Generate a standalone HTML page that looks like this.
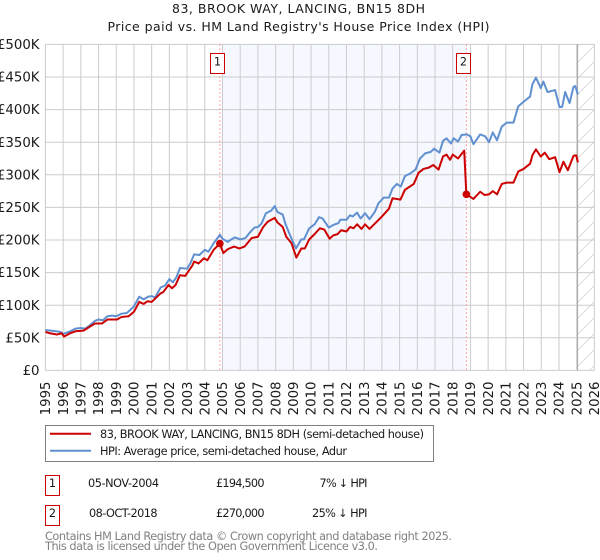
<!DOCTYPE html>
<html>
<head>
<meta charset="utf-8">
<title>83, BROOK WAY, LANCING, BN15 8DH</title>
<style>
html,body{margin:0;padding:0;background:#fff;width:600px;height:560px;overflow:hidden}
svg{display:block}
text{font-family:"DejaVu Sans","Liberation Sans",sans-serif;fill:#1a1a1a}
</style>
</head>
<body>
<svg id="chart" xmlns="http://www.w3.org/2000/svg" width="600" height="560" viewBox="0 0 600 560">
  <defs>
    <pattern id="hatch" patternUnits="userSpaceOnUse" width="16" height="16">
      <path d="M-2 18L18 -2M-2 2L2 -2M14 18L18 14" stroke="#d4d4d4" stroke-width="0.8" fill="none"/>
    </pattern>
  </defs>
  <text x="298.5" y="13" font-size="12.5" text-anchor="middle" textLength="253">83, BROOK WAY, LANCING, BN15 8DH</text>
  <text x="298.5" y="31" font-size="12.5" text-anchor="middle" textLength="382">Price paid vs. HM Land Registry's House Price Index (HPI)</text>
  <g id="plot"></g>

  <g>
    <rect x="45.5" y="425.5" width="388" height="36" fill="#fff" stroke="#808080" stroke-width="1"/>
    <line x1="50" x2="91" y1="433.7" y2="433.7" stroke="#cc0000" stroke-width="2"/>
    <text x="100" y="438" font-size="11.3" textLength="324">83, BROOK WAY, LANCING, BN15 8DH (semi-detached house)</text>
    <line x1="50" x2="91" y1="450.7" y2="450.7" stroke="#6090d0" stroke-width="2"/>
    <text x="100" y="455" font-size="11.3" textLength="247">HPI: Average price, semi-detached house, Adur</text>
  </g>

  <g>
    <rect x="45.5" y="475.5" width="14" height="20" fill="#fff" stroke="#cc0000" stroke-width="1"/>
    <text x="52.5" y="487" font-size="11.3" text-anchor="middle">1</text>
    <text x="88" y="487" font-size="11.3" textLength="71">05-NOV-2004</text>
    <text x="216" y="487" font-size="11.3" textLength="48.5">£194,500</text>
    <text x="319.5" y="487" font-size="11.3" textLength="48">7% ↓ HPI</text>
  </g>
  <g>
    <rect x="45.5" y="505.5" width="14" height="20" fill="#fff" stroke="#cc0000" stroke-width="1"/>
    <text x="52.5" y="517" font-size="11.3" text-anchor="middle">2</text>
    <text x="89" y="517" font-size="11.3" textLength="68.5">08-OCT-2018</text>
    <text x="216" y="517" font-size="11.3" textLength="48.5">£270,000</text>
    <text x="312" y="517" font-size="11.3" textLength="55.5">25% ↓ HPI</text>
  </g>

  <text x="45" y="540" font-size="11.3" style="fill:#808080" textLength="407">Contains HM Land Registry data © Crown copyright and database right 2025.</text>
  <text x="45" y="550" font-size="11.3" style="fill:#808080" textLength="333">This data is licensed under the Open Government Licence v3.0.</text>
</svg>
<script>
var xTickYears = [1995,1996,1997,1998,1999,2000,2001,2002,2003,2004,2005,2006,2007,2008,2009,2010,2011,2012,2013,2014,2015,2016,2017,2018,2019,2020,2021,2022,2023,2024,2025,2026];
var yTickValues = [0,50,100,150,200,250,300,350,400,450,500];
var yTickLabels = ['£0','£50K','£100K','£150K','£200K','£250K','£300K','£350K','£400K','£450K','£500K'];

var hpiYears = [1995,1995.3,1995.6,1995.85,1996,1996.4,1996.7,1997,1997.25,1997.5,1997.8,1998,1998.25,1998.5,1998.75,1999,1999.3,1999.6,2000,2000.3,2000.55,2000.8,2001,2001.2,2001.5,2001.75,2002,2002.2,2002.4,2002.6,2003,2003.2,2003.4,2003.7,2004,2004.2,2004.5,2004.85,2005,2005.3,2005.5,2005.7,2006,2006.3,2006.5,2006.8,2007,2007.2,2007.45,2007.75,2007.95,2008.1,2008.4,2008.55,2008.85,2009.15,2009.45,2009.6,2009.9,2010.2,2010.45,2010.65,2011,2011.25,2011.55,2011.65,2012,2012.2,2012.35,2012.6,2012.8,2013.05,2013.3,2013.6,2013.8,2014.1,2014.4,2014.6,2014.85,2015.07,2015.3,2015.6,2015.9,2016.15,2016.45,2016.75,2016.95,2017.25,2017.45,2017.65,2017.9,2018.05,2018.3,2018.5,2018.8,2019,2019.17,2019.55,2019.83,2020.05,2020.26,2020.5,2020.77,2021.05,2021.43,2021.7,2022,2022.37,2022.5,2022.7,2022.97,2023.12,2023.35,2023.78,2024.03,2024.18,2024.35,2024.6,2024.82,2024.92,2025.07];
var hpiValues = [62,61,60,59,56,60,64,65,64,69,76,78,77,83,84,83,87,88,98,113,109,113,114,112,127,130,140,135,143,157,156,165,178,177,185,182,195,208,202,197,201,204,201,203,210,219,220,225,241,245,252,243,239,225,205,187,201,201,218,224,235,233,219,223,226,231,231,238,236,242,233,241,232,243,256,265,265,279,286,282,298,302,308,325,333,335,340,334,352,356,348,356,351,361,362,359,347,362,359,350,365,353,374,380,380,405,412,420,439,449,433,443,427,430,404,404,427,410,435,436,423];

var priceYears = [1995,1995.26,1995.64,1995.92,1996.05,1996.4,1996.7,1997.15,1997.5,1997.8,1998.2,1998.5,1999.05,1999.3,1999.7,2000,2000.3,2000.55,2000.75,2001,2001.5,2001.65,2001.95,2002.15,2002.35,2002.6,2002.9,2003.3,2003.4,2003.65,2003.95,2004.15,2004.5,2004.85,2005.05,2005.3,2005.65,2005.95,2006.25,2006.65,2007,2007.3,2007.55,2007.95,2008.1,2008.4,2008.6,2008.9,2009.17,2009.45,2009.65,2009.9,2010.2,2010.5,2010.75,2011.05,2011.25,2011.5,2011.7,2012,2012.2,2012.4,2012.6,2012.85,2013.05,2013.3,2014,2014.4,2014.6,2015.05,2015.3,2015.8,2016.07,2016.35,2016.65,2016.9,2017.2,2017.45,2017.65,2017.85,2018,2018.3,2018.65,2018.77,2019,2019.17,2019.55,2019.8,2020.05,2020.26,2020.5,2020.77,2021.05,2021.43,2021.7,2022,2022.37,2022.5,2022.7,2022.97,2023.2,2023.45,2023.78,2024.03,2024.25,2024.5,2024.82,2024.97,2025.07];
var priceValues = [59,57,55,57,52,57,60,61,67,72,72,78,78,82,83,90,105,102,106,105,118,120,131,126,131,146,145,161,167,164,172,169,185,194.5,180,186,190,187,190,203,205,220,228,234,227,220,205,195,173,187,187,201,209,218,216,202,207,209,215,213,220,218,224,217,224,217,236,248,264,262,277,286,303,309,311,315,308,328,331,323,331,325,337,270,266,263,274,269,270,275,270,286,288,288,305,309,317,330,339,328,334,324,327,304,320,307,329,330,319];

var saleYears = [2004.85, 2018.77];
var saleValues = [194.5, 270];
var saleLabels = ['1', '2'];
var shadeStartYear = 2005;
var forecastStartYear = 2025.05;

var SVG_NS = 'http://www.w3.org/2000/svg';
var plot = document.getElementById('plot');
var LEFT = 45.4, RIGHT = 594.4, TOP = 44.4, BOTTOM = 370.4;
var X_MIN = 1995, X_MAX = 2026, Y_MIN = 0, Y_MAX = 500;

function xScale(year) { return LEFT + (year - X_MIN) / (X_MAX - X_MIN) * (RIGHT - LEFT); }
function yScale(value) { return BOTTOM - (value - Y_MIN) / (Y_MAX - Y_MIN) * (BOTTOM - TOP); }
function make(tag, attrs, parent) {
  var el = document.createElementNS(SVG_NS, tag);
  for (var k in attrs) { el.setAttribute(k, attrs[k]); }
  (parent || plot).appendChild(el);
  return el;
}
function linePath(xs, ys) {
  return xs.map(function (x, i) { return (i ? 'L' : 'M') + xScale(x).toFixed(2) + ' ' + yScale(ys[i]).toFixed(2); }).join('');
}

var shade = make('rect', {x: xScale(shadeStartYear), y: TOP, width: xScale(saleYears[1]) - xScale(shadeStartYear), height: BOTTOM - TOP, fill: '#f5f8ff'});



var hatch = make('rect', {x: xScale(forecastStartYear), y: TOP, width: RIGHT - xScale(forecastStartYear), height: BOTTOM - TOP, fill: 'url(#hatch)'});



yTickValues.forEach(function (v, i) {
  var g = make('line', {x1: LEFT, x2: RIGHT, y1: yScale(v), y2: yScale(v), stroke: '#cccccc', 'stroke-width': 1});
  
  
  var t = make('text', {x: 39.5, y: yScale(v) + 4.6, 'font-size': 13.3, 'text-anchor': 'end'});
  
  
  t.textContent = yTickLabels[i];
});

xTickYears.forEach(function (y) {
  var g = make('line', {x1: xScale(y), x2: xScale(y), y1: TOP, y2: BOTTOM, stroke: '#cccccc', 'stroke-width': 1});
  
  
  var tx = xScale(y) + 4.7;
  var t = make('text', {x: tx, y: 381.5, 'font-size': 13.3, 'text-anchor': 'end', transform: 'rotate(-90 ' + tx + ' 381.5)'});
  
  
  t.textContent = String(y);
});

var endLine = make('line', {x1: xScale(forecastStartYear), x2: xScale(forecastStartYear), y1: TOP, y2: BOTTOM, stroke: '#a8a8a8', 'stroke-width': 1});



saleYears.forEach(function (y, i) {
  var v = make('line', {x1: xScale(y), x2: xScale(y), y1: TOP, y2: BOTTOM, stroke: '#ff8080', 'stroke-width': 0.9, 'stroke-dasharray': '1.5 2.5'});
  
  
});

var hpiLine = make('path', {d: linePath(hpiYears, hpiValues), fill: 'none', stroke: '#6090d0', 'stroke-width': 2, 'stroke-linejoin': 'round'});



var priceLine = make('path', {d: linePath(priceYears, priceValues), fill: 'none', stroke: '#cc0000', 'stroke-width': 2, 'stroke-linejoin': 'round'});



saleYears.forEach(function (y, i) {
  var c = make('circle', {cx: xScale(y), cy: yScale(saleValues[i]), r: 3.8, fill: '#cc0000'});
  
  
  var b = make('rect', {x: Math.round(xScale(y)) - 9.5, y: 53.5, width: 14, height: 20, fill: '#ffffff', stroke: '#cc0000', 'stroke-width': 1});
  
  
  var t = make('text', {x: Math.round(xScale(y)) - 2.5, y: 65.5, 'font-size': 11.3, 'text-anchor': 'middle'});
  
  
  t.textContent = saleLabels[i];
});
</script>
</body>
</html>
